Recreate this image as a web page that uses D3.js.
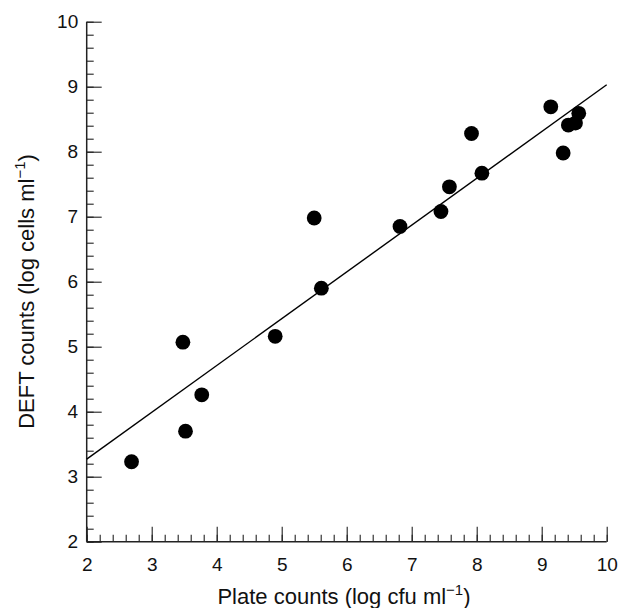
<!DOCTYPE html>
<html>
<head>
<meta charset="utf-8">
<script src="https://cdn.jsdelivr.net/npm/d3@7/dist/d3.min.js"></script>
<style>
  html, body { margin: 0; padding: 0; background: #fff; }
  svg { display: block; font-family: "Liberation Sans", Arial, Helvetica, sans-serif; }
</style>
</head>
<body>
<svg id="chart" width="620" height="608"></svg>
<script>
// Plate counts (log cfu/ml) vs DEFT counts (log cells/ml)
const plateCounts = [2.69, 3.48, 3.52, 3.77, 4.90, 5.50, 5.61, 6.82, 7.45, 7.58, 7.92, 8.08, 9.14, 9.33, 9.41, 9.52, 9.57];
const deftCounts  = [3.23, 5.07, 3.70, 4.26, 5.16, 6.98, 5.90, 6.85, 7.08, 7.46, 8.28, 7.67, 8.69, 7.98, 8.41, 8.44, 8.59];

// Fitted regression line endpoints
const fitX = [2, 10];
const fitY = [3.27, 9.03];

const xTicks = [2, 3, 4, 5, 6, 7, 8, 9, 10];
const yTicks = [2, 3, 4, 5, 6, 7, 8, 9, 10];
const minorTicks = d3.range(2, 10.001, 0.2).map(v => +v.toFixed(1));

const svg = d3.select("#chart");
const plotLeft = 86.7, plotRight = 606.7, plotTop = 21.7, plotBottom = 541.7;

const x = d3.scaleLinear().domain([2, 10]).range([plotLeft, plotRight]);
const y = d3.scaleLinear().domain([2, 10]).range([plotBottom, plotTop]);

const axisColor = "#222";

// Minor ticks (inward)
const xMinor = svg.append("g").attr("transform", `translate(0,${plotBottom})`)
  .call(d3.axisBottom(x).tickValues(minorTicks).tickSize(-7).tickFormat(""));
const yMinor = svg.append("g").attr("transform", `translate(${plotLeft},0)`)
  .call(d3.axisLeft(y).tickValues(minorTicks).tickSize(-7).tickFormat(""));

// Major ticks with labels
const xAxis = svg.append("g").attr("transform", `translate(0,${plotBottom})`)
  .call(d3.axisBottom(x).tickValues(xTicks).tickSize(-15).tickPadding(15.5).tickFormat(d3.format("d")));
const yAxis = svg.append("g").attr("transform", `translate(${plotLeft},0)`)
  .call(d3.axisLeft(y).tickValues(yTicks).tickSize(-15).tickPadding(8.5).tickFormat(d3.format("d")));

[xMinor, yMinor, xAxis, yAxis].forEach(g => {
  g.selectAll(".domain").attr("stroke", axisColor).attr("stroke-width", 1.5);
  g.selectAll(".tick line").attr("stroke", axisColor).attr("stroke-width", 1.1);
  g.selectAll("text").attr("font-size", 19).attr("fill", "#111")
    .attr("font-family", "'Liberation Sans', Arial, sans-serif");
});
xAxis.selectAll(".domain").attr("d", `M${plotLeft},0H${plotRight}`);
yAxis.selectAll(".domain").attr("d", `M0,${plotBottom}V${plotTop}`);
xMinor.selectAll(".domain").remove();
yMinor.selectAll(".domain").remove();

// Regression line
svg.append("line")
  .attr("x1", x(fitX[0])).attr("y1", y(fitY[0]))
  .attr("x2", x(fitX[1])).attr("y2", y(fitY[1]))
  .attr("stroke", "#000").attr("stroke-width", 1.4);

// Data points
svg.append("g").selectAll("circle")
  .data(plateCounts.map((p, i) => [p, deftCounts[i]]))
  .join("circle")
  .attr("cx", d => x(d[0]))
  .attr("cy", d => y(d[1]))
  .attr("r", 7.4)
  .attr("fill", "#000");

// Axis titles
const titleSize = 22;
const xt = svg.append("text")
  .attr("x", 344).attr("y", 604)
  .attr("text-anchor", "middle").attr("font-size", titleSize).attr("fill", "#111");
xt.append("tspan").text("Plate counts (log cfu ml");
xt.append("tspan").attr("dy", -9).attr("font-size", 15).text("\u22121");
xt.append("tspan").attr("dy", 9).text(")");

const yt = svg.append("text")
  .attr("transform", `translate(34,291.5) rotate(-90)`)
  .attr("text-anchor", "middle").attr("font-size", titleSize).attr("fill", "#111");
yt.append("tspan").text("DEFT counts (log cells ml");
yt.append("tspan").attr("dy", -9).attr("font-size", 15).text("\u22121");
yt.append("tspan").attr("dy", 9).text(")");
</script>
</body>
</html>
